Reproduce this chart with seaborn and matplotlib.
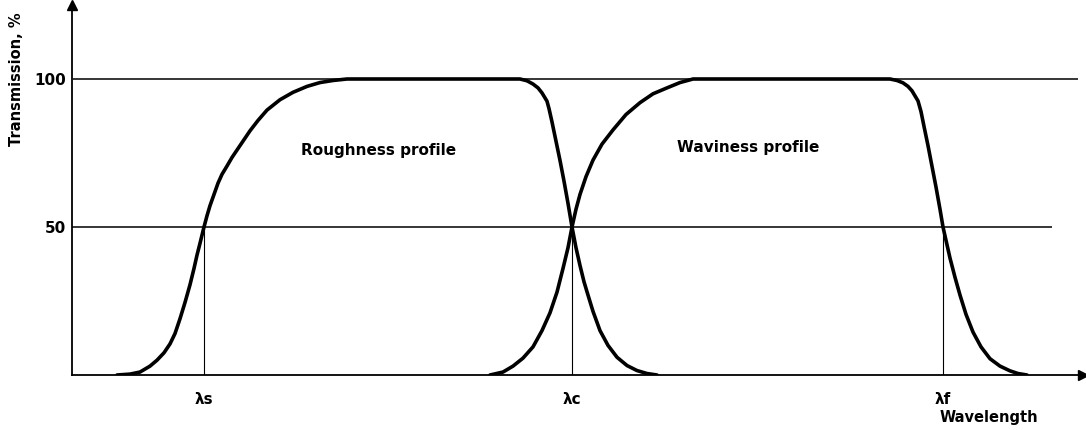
"""
Transmission characteristic of roughness and waviness profiles
"""

import matplotlib
matplotlib.use("Agg")
import matplotlib.pyplot as plt
import pandas as pd
import seaborn as sns

# Roughness profile (wavelength in arbitrary units, transmission in %)
roughness_x = [45, 58, 68, 78, 85, 92, 98, 103, 108, 113, 118, 122, 125, 128, 132,
               135, 138, 142, 146, 150, 155, 160, 165, 171, 178, 186, 195, 208, 221,
               235, 248, 261, 275, 438, 448, 455, 461, 466, 470, 475, 477, 480, 484,
               488, 492, 496, 500, 504, 508, 512, 516, 521, 528, 536, 545, 555, 565,
               575, 585]
roughness_y = [0, 0.3, 1, 3, 5, 7.5, 10.5, 14, 19, 24.5, 30.5, 36, 40.5, 44.5, 50,
               53.8, 57.2, 61, 64.8, 67.8, 70.6, 73.5, 76, 79, 82.5, 86, 89.5, 93, 95.5,
               97.5, 98.8, 99.5, 100, 100, 100, 99.4, 98.3, 97, 95.3, 92.5, 90, 85.5, 79,
               72.5, 65.5, 58, 50, 43, 37, 31.5, 27, 21.5, 15, 10, 6, 3.2, 1.5,
               0.5, 0]

# Waviness profile
waviness_x = [418, 431, 441, 451, 461, 470, 478, 485, 491, 496, 500, 504, 508, 514, 521,
              530, 541, 554, 568, 581, 595, 608, 621, 808, 818, 825, 831, 836, 840,
              846, 849, 852, 856, 860, 864, 868, 871, 875, 878, 883, 888, 894, 901,
              909, 918, 928, 938, 946, 955]
waviness_y = [0, 1, 3, 5.7, 9.5, 15, 21, 28, 36, 43, 50, 56, 61, 67, 72.6,
              78, 82.8, 88, 92, 95, 97, 98.8, 100, 100, 100, 99.5, 98.7, 97.5, 96,
              92.6, 89, 84, 77.5, 70.5, 63.5, 56, 50, 44, 39.5, 33, 27, 20.5, 14.5,
              9.5, 5.5, 3, 1.4, 0.5, 0]

# Cut-off wavelengths
cutoff_pos = [132, 500, 871]
cutoff_labels = ["λs", "λc", "λf"]

y_ticks = [50, 100]
y_ticklabels = ["50", "100"]

W, H = 1086, 430

sns.set_style("white")
plt.rcParams["font.family"] = ["DejaVu Sans"]
plt.rcParams["text.color"] = "black"
plt.rcParams["xtick.color"] = "black"
plt.rcParams["ytick.color"] = "black"

fig = plt.figure(figsize=(W / 100, H / 100), dpi=100)
ax = fig.add_axes([72 / W, 55 / H, 1011 / W, 370 / H])

df_r = pd.DataFrame({"x": roughness_x, "y": roughness_y})
df_w = pd.DataFrame({"x": waviness_x, "y": waviness_y})
sns.lineplot(data=df_r, x="x", y="y", sort=False, color="black", lw=2.6, ax=ax)
sns.lineplot(data=df_w, x="x", y="y", sort=False, color="black", lw=2.6, ax=ax)

# reference lines
ax.hlines(100, 1, 1006, color="black", lw=1.1)
ax.hlines(50, 0, 980, color="black", lw=1.1)
ax.vlines(cutoff_pos, 0, 50, color="black", lw=0.8)

ax.set_xlim(0, 1011)
ax.set_ylim(0, 125)

for side in ["top", "right"]:
    ax.spines[side].set_visible(False)
for side in ["left", "bottom"]:
    ax.spines[side].set_linewidth(1.3)
    ax.spines[side].set_color("black")

# axis arrows
ax.plot(1, 0, ">k", transform=ax.transAxes, clip_on=False, markersize=7)
ax.plot(0, 1, "^k", transform=ax.transAxes, clip_on=False, markersize=7)

ax.set_xticks(cutoff_pos)
ax.set_xticklabels(cutoff_labels, fontsize=11, fontweight="bold")
ax.set_yticks(y_ticks)
ax.set_yticklabels(y_ticklabels, fontsize=11, fontweight="bold")
ax.tick_params(axis="x", length=0, pad=12)
ax.tick_params(axis="y", length=0, pad=4)

ax.set_xlabel("")
ax.set_ylabel("")
ax.text(-55 / 1011, 0.8, "Transmission, %", transform=ax.transAxes, rotation=90,
        ha="center", va="center", fontsize=10.5, fontweight="bold")
ax.text(917, -14.5, "Wavelength", ha="center", va="center", fontsize=10.5,
        fontweight="bold", clip_on=False)

ax.text(307, 76, "Roughness profile", ha="center", va="center", fontsize=11,
        fontweight="bold")
ax.text(676, 77, "Waviness profile", ha="center", va="center", fontsize=11,
        fontweight="bold")

fig.savefig("out.png", dpi=100)
